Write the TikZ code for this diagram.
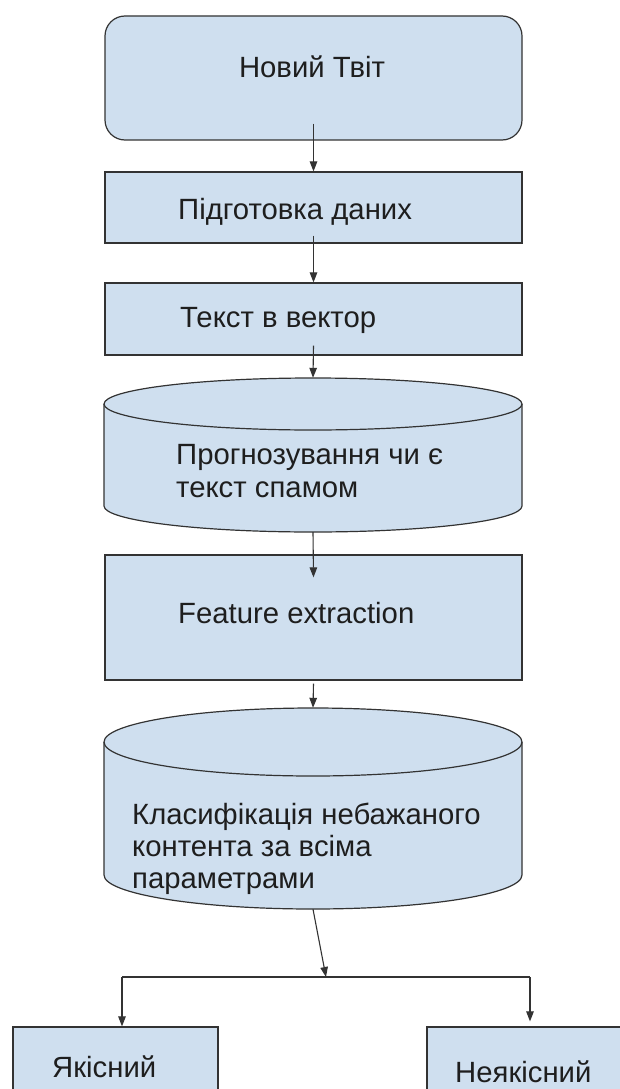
\documentclass[tikz,border=0pt]{standalone}
\usepackage{fontspec}
\setmainfont{Liberation Sans}
\usetikzlibrary{arrows.meta,calc}
\definecolor{boxfill}{HTML}{CFDFEF}
\definecolor{edge}{HTML}{333333}
\definecolor{txt}{HTML}{1E1E1E}
\begin{document}
\begin{tikzpicture}[x=1pt,y=-1pt,
  box/.style={draw=edge,fill=boxfill,line width=1.2pt,minimum width=417pt,inner sep=0pt},
  cyl/.style={draw=edge,fill=boxfill,line width=1.2pt},
  ghost/.style={inner sep=0pt,minimum width=418pt},
  lbl/.style={font=\fontsize{29.3}{33}\selectfont,text=txt,anchor=west,inner sep=0pt,align=left},
  arr/.style={draw=edge,line width=1.1pt,-{Triangle[length=10pt,width=7.5pt]}},
  ln/.style={draw=edge,line width=1.1pt}]
\clip (0,0) rectangle (620,1089);
\fill[white] (0,0) rectangle (620,1089);

% boxes
\node[box,rounded corners=20pt,minimum height=124pt] (tweet) at (313.5,78) {};
\node[lbl,anchor=center] (tweetT) at (312,67) {Новий Твіт};

\node[box,minimum height=71pt] (prep) at (313.5,207.5) {};
\node[lbl] (prepT) at (178,212) {Підготовка даних};

\node[box,minimum height=72pt] (vec) at (313.5,319) {};
\node[lbl] (vecT) at (180,320) {Текст в вектор};

% cylinder 1
\path[cyl] (104,404) -- (104,506) arc[start angle=180,end angle=360,x radius=209pt,y radius=26pt]
  -- (522,404) arc[start angle=0,end angle=180,x radius=209pt,y radius=26pt] -- cycle;
\draw[edge,line width=1.2pt] (104,404) arc[start angle=180,end angle=360,x radius=209pt,y radius=26pt];
\node[ghost,minimum height=154pt] (pred) at (313,455) {};
\node[lbl] (predT) at (176,471.5) {Прогнозування чи є\\текст спамом};

\node[box,minimum height=125pt] (feat) at (313.5,617.5) {};
\node[lbl] (featT) at (178,613) {Feature extraction};

% cylinder 2
\path[cyl] (104,742) -- (104,875) arc[start angle=180,end angle=360,x radius=209pt,y radius=34pt]
  -- (522,742) arc[start angle=0,end angle=180,x radius=209pt,y radius=34pt] -- cycle;
\draw[edge,line width=1.2pt] (104,742) arc[start angle=180,end angle=360,x radius=209pt,y radius=34pt];
\node[ghost,minimum height=201pt] (cls) at (313,808.5) {};
\node[lbl,font=\fontsize{29.3}{32}\selectfont] (clsT) at (132,849) {Класифікація небажаного\\контента за всіма\\параметрами};

% result boxes
\node[box,minimum width=205pt,minimum height=100pt] (good) at (115.5,1077) {};
\node[lbl] (goodT) at (52,1067) {Якісний};
\node[box,minimum width=213pt,minimum height=100pt] (bad) at (533.5,1077) {};
\node[lbl] (badT) at (455,1072) {Неякісний};

% connectors
\draw[arr] ([yshift=17pt]tweet.south) -- (prep.north);
\draw[arr] ([yshift=8pt]prep.south) -- (vec.north);
\draw[arr] ([yshift=10pt]vec.south) -- (pred.north);
\draw[arr] (pred.south) -- ([yshift=-23pt]feat.north);
\draw[arr] ([yshift=-3pt]feat.south) -- (cls.north);
\coordinate (split) at (326,977);
\coordinate (jl) at (122,977);
\coordinate (jr) at (530,977);
\draw[arr] (cls.south) -- (split);
\draw[ln] (jl) -- (jr);
\draw[arr] (jl) -- (jl |- good.north);
\draw[arr] (jr) -- ([yshift=5pt]jr |- bad.north);
\end{tikzpicture}
\end{document}
